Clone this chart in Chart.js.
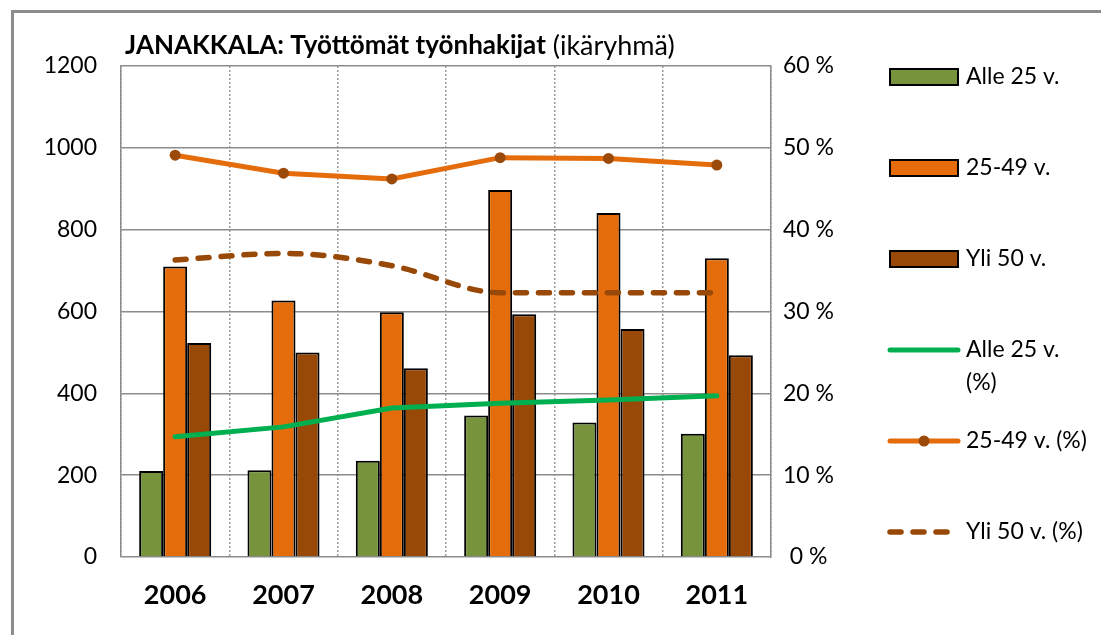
<!DOCTYPE html>
<html lang="fi">
<head>
  <meta charset="UTF-8">
  <title>JANAKKALA: Työttömät työnhakijat</title>
  <script src="https://cdn.jsdelivr.net/npm/chart.js"></script>
  <style>
    body {
      margin: 0;
      padding: 0;
      background-color: #fff;
      overflow: hidden;
    }
    canvas {
      display: block;
    }
  </style>
</head>
<body>
  <canvas id="chart" width="1101" height="635"></canvas>

  <script>
    // data
    const years = ['2006', '2007', '2008', '2009', '2010', '2011'];
    const alle25 = [210, 212, 235, 346, 329, 301];
    const v25to49 = [710, 627, 598, 897, 841, 730];
    const yli50 = [523, 500, 461, 593, 557, 493];
    const alle25Pct = [14.7, 15.9, 18.2, 18.8, 19.2, 19.7];
    const v25to49Pct = [49.1, 46.9, 46.2, 48.8, 48.7, 47.9];
    const yli50Pct = [36.3, 37.1, 35.6, 32.3, 32.3, 32.3];
    const leftTicks = [0, 200, 400, 600, 800, 1000, 1200];
    const rightTicks = [0, 10, 20, 30, 40, 50, 60];

    const FONT = 'Lato, "Open Sans", sans-serif';
    const gridGray = '#8c8c8c';

    // outer frame (only left and top edges show) and the two-part title
    const titlePlugin = {
      id: 'mixedTitle',
      beforeDraw(chart) {
        const ctx = chart.ctx;
        ctx.save();
        ctx.strokeStyle = gridGray;
        ctx.lineWidth = 3;
        ctx.beginPath();
        ctx.moveTo(12.5, chart.height);
        ctx.lineTo(12.5, 11.5);
        ctx.lineTo(chart.width, 11.5);
        ctx.stroke();
        ctx.restore();
      },
      afterDraw(chart) {
        const ctx = chart.ctx;
        ctx.save();
        ctx.textBaseline = 'middle';
        ctx.fillStyle = '#000';
        ctx.font = 'bold 26px ' + FONT;
        const bold = 'JANAKKALA: Työttömät työnhakijat';
        ctx.fillText(bold, 125, 46);
        const w = ctx.measureText(bold).width;
        ctx.font = '27px ' + FONT;
        ctx.fillText(' (ikäryhmä)', 125 + w, 46);
        ctx.restore();
      }
    };

    // legend down the right side, one row per dataset
    const sideLegend = {
      id: 'sideLegend',
      afterDraw(chart, args, opts) {
        const ctx = chart.ctx;
        const rows = opts.rows;
        ctx.save();
        ctx.font = '23px ' + FONT;
        ctx.textBaseline = 'middle';
        chart.data.datasets.forEach((ds, i) => {
          const y = rows[i];
          if (ds.type === 'bar') {
            ctx.fillStyle = ds.backgroundColor;
            ctx.fillRect(890, y - 8, 68, 16);
            ctx.lineWidth = 2;
            ctx.strokeStyle = '#000';
            ctx.strokeRect(890, y - 8, 68, 16);
          } else {
            ctx.strokeStyle = ds.borderColor;
            ctx.lineWidth = ds.borderWidth;
            ctx.lineCap = 'round';
            ctx.setLineDash(ds.borderDash || []);
            ctx.beginPath();
            ctx.moveTo(890, y);
            ctx.lineTo(958, y);
            ctx.stroke();
            ctx.setLineDash([]);
            if (ds.pointRadius > 0) {
              ctx.fillStyle = ds.pointBackgroundColor;
              ctx.beginPath();
              ctx.arc(924, y, ds.pointRadius, 0, Math.PI * 2);
              ctx.fill();
            }
          }
          // simple word wrap
          ctx.fillStyle = '#000';
          const words = ds.label.split(' ');
          let lines = [], cur = '';
          words.forEach(wd => {
            const test = cur ? cur + ' ' + wd : wd;
            if (ctx.measureText(test).width > 128 && cur) {
              lines.push(cur);
              cur = wd;
            } else {
              cur = test;
            }
          });
          lines.push(cur);
          lines.forEach((ln, k) => ctx.fillText(ln, 966, y + k * 33));
        });
        ctx.restore();
      }
    };

    new Chart(document.getElementById('chart'), {
      data: {
        labels: years,
        datasets: [
          {
            type: 'bar', label: 'Alle 25 v.', data: alle25, yAxisID: 'y',
            backgroundColor: '#77933c', borderColor: '#000', borderWidth: 2, order: 2
          },
          {
            type: 'bar', label: '25-49 v.', data: v25to49, yAxisID: 'y',
            backgroundColor: '#e46c0a', borderColor: '#000', borderWidth: 2, order: 2
          },
          {
            type: 'bar', label: 'Yli 50 v.', data: yli50, yAxisID: 'y',
            backgroundColor: '#984807', borderColor: '#000', borderWidth: 2, order: 2
          },
          {
            type: 'line', label: 'Alle 25 v. (%)', data: alle25Pct, yAxisID: 'y2',
            borderColor: '#00b050', borderWidth: 5, pointRadius: 0, tension: 0,
            borderCapStyle: 'round', order: 1
          },
          {
            type: 'line', label: '25-49 v. (%)', data: v25to49Pct, yAxisID: 'y2',
            borderColor: '#e46c0a', borderWidth: 5, pointRadius: 5.5,
            pointBackgroundColor: '#9c4a0a', pointBorderColor: '#9c4a0a', pointBorderWidth: 0,
            tension: 0, borderCapStyle: 'round', order: 1
          },
          {
            type: 'line', label: 'Yli 50 v. (%)', data: yli50Pct, yAxisID: 'y2',
            borderColor: '#984807', borderWidth: 5.5, pointRadius: 0,
            cubicInterpolationMode: 'monotone',
            borderDash: [11, 12], borderCapStyle: 'round', order: 1
          }
        ]
      },
      options: {
        responsive: false,
        animation: false,
        events: [],
        layout: { padding: { top: 66, right: 242, left: 0, bottom: 0 } },
        datasets: {
          bar: { categoryPercentage: 0.665, barPercentage: 1 }
        },
        plugins: {
          legend: { display: false },
          title: { display: false },
          tooltip: { enabled: false },
          sideLegend: { rows: [77, 168, 259, 350, 441, 532] }
        },
        scales: {
          x: {
            offset: true,
            grid: {
              color: '#9a9a9a', lineWidth: 1.5, drawTicks: false
            },
            border: { display: false, dash: [2, 2] },
            ticks: {
              color: '#000', padding: 22,
              font: { family: FONT, size: 27, weight: 'bold' }
            },
            afterFit(scale) { scale.height = 78; }
          },
          y: {
            position: 'left',
            min: 0, max: 1200,
            afterBuildTicks(scale) { scale.ticks = leftTicks.map(v => ({ value: v })); },
            grid: { color: gridGray, lineWidth: 1.5, drawTicks: false },
            border: { display: true, color: gridGray, width: 1.5 },
            ticks: {
              color: '#000', padding: 24,
              font: { family: FONT, size: 23 },
              callback: v => String(v)
            },
            afterFit(scale) { scale.width = 121; }
          },
          y2: {
            position: 'right',
            min: 0, max: 60,
            afterBuildTicks(scale) { scale.ticks = rightTicks.map(v => ({ value: v })); },
            grid: { display: false, drawTicks: false },
            border: { display: true, color: gridGray, width: 1.5 },
            ticks: {
              color: '#000', padding: 12, crossAlign: 'center',
              font: { family: FONT, size: 23 },
              callback: v => v + ' %'
            },
            afterFit(scale) { scale.width = 88; }
          }
        }
      },
      plugins: [titlePlugin, sideLegend]
    });
  </script>
</body>
</html>
